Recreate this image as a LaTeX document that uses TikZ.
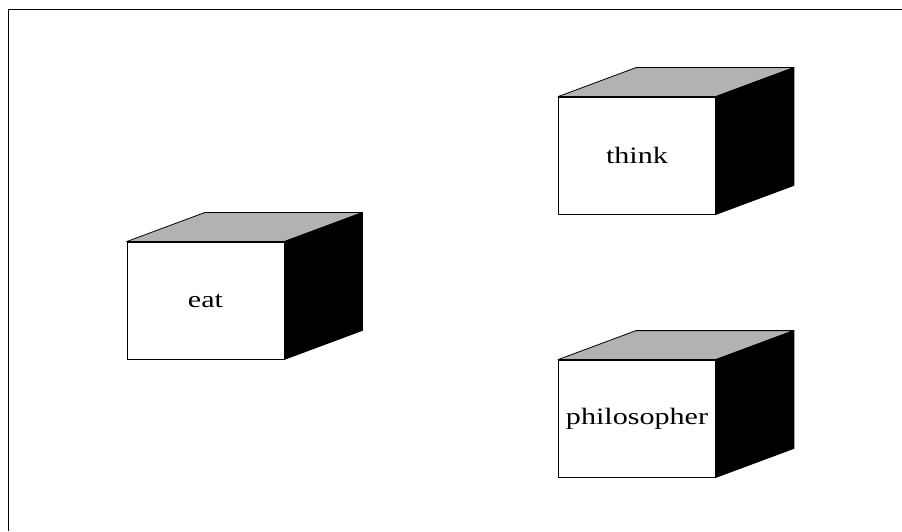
\documentclass[tikz,border=0pt]{standalone}
\usepackage{fontspec}
\setmainfont{Liberation Serif}
\newcommand\cubelabel[1]{\scalebox{1.28}[1]{\fontsize{23.5}{28}\selectfont #1}}
\tikzset{
  front/.style={draw=black, fill=white, line width=0.8pt, inner sep=0pt,
    minimum width=157pt, minimum height=117pt},
  topface/.style={draw=black, fill=black!30, line width=0.8pt, line join=round},
  sideface/.style={draw=black, fill=black, line width=0.8pt, line join=round},
  frame/.style={draw=black, line width=0.8pt}
}
\newcommand\cubefaces[1]{%
  \path[topface] (#1.north west) -- ([shift={(78pt,29pt)}]#1.north west)
    -- ([shift={(78pt,29pt)}]#1.north east) -- (#1.north east) -- cycle;
  \path[sideface] (#1.north east) -- ([shift={(78pt,29pt)}]#1.north east)
    -- ([shift={(78pt,29pt)}]#1.south east) -- (#1.south east) -- cycle;
}
\begin{document}
\begin{tikzpicture}[x=1pt,y=1pt]
  \useasboundingbox (0,0) rectangle (902,531);
  \coordinate (fbl) at (8,0);
  \coordinate (ftl) at (8,522);
  \coordinate (ftr) at (902,522);
  \draw[frame] (fbl) -- (ftl) -- (ftr);
  \node[front] (eat) at (205.5,230.5) {\cubelabel{eat}};
  \node[front] (think) at (637,375.5) {\cubelabel{think}};
  \node[front] (phil) at (637,112.5) {\cubelabel{philosopher}};
  \cubefaces{eat}
  \cubefaces{think}
  \cubefaces{phil}
\end{tikzpicture}
\end{document}
